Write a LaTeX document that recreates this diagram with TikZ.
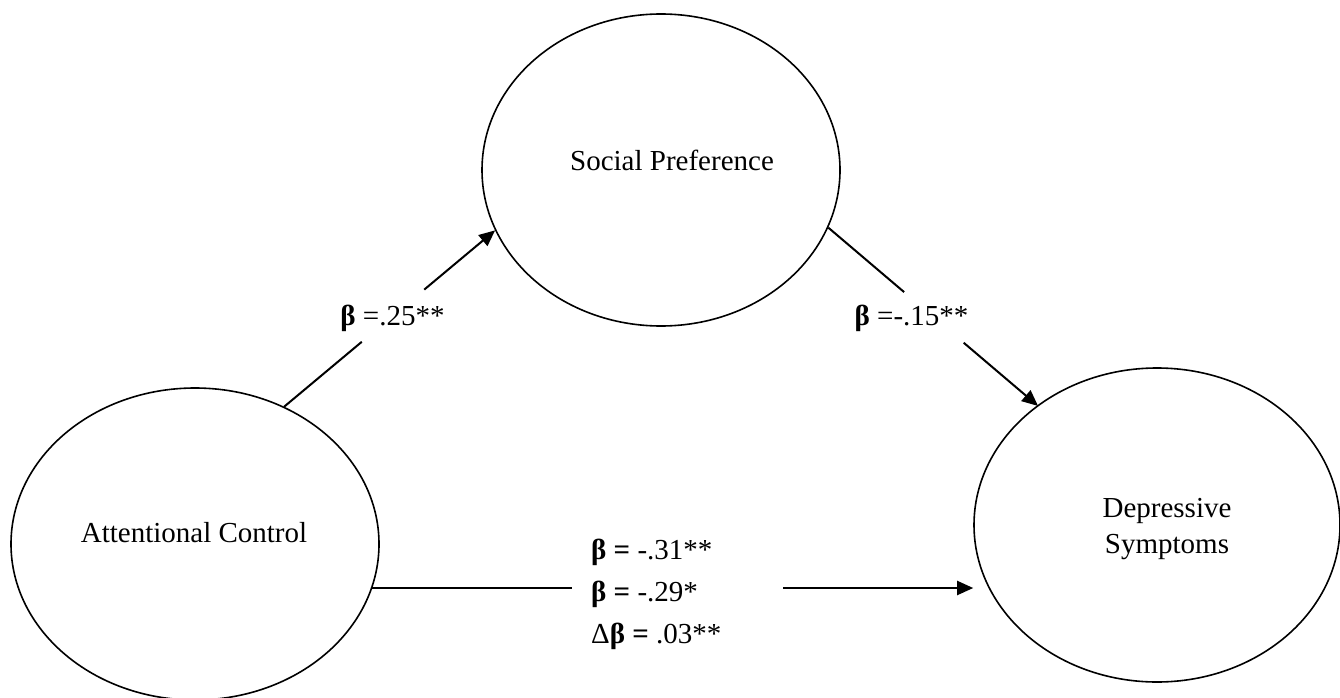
\documentclass[tikz,border=0pt]{standalone}
\usepackage{fontspec}
\setmainfont{Liberation Serif}
\usetikzlibrary{shapes.geometric,arrows.meta,calc}
\begin{document}
\begin{tikzpicture}[x=1pt,y=-1pt,
  construct/.style={draw, ellipse, line width=1.6pt, inner sep=0pt},
  link/.style={line width=2pt},
  linkarrow/.style={line width=2pt, -{Triangle[length=16pt,width=14pt]}},
  txt/.style={font=\fontsize{29}{35}\selectfont, inner sep=0pt}
]
\useasboundingbox (0,0) rectangle (1340,698);
\fill[white] (0,0) rectangle (1340,698);

% constructs
\node[construct, minimum width=368pt, minimum height=312pt] (ac) at (195,544) {};
\node[construct, minimum width=358pt, minimum height=312pt] (sp) at (661,170) {};
\node[construct, minimum width=366pt, minimum height=314pt] (ds) at (1157,525) {};

\node[txt, anchor=base] (tac) at (194,542) {Attentional Control};
\node[txt, anchor=base] (tsp) at (672,170) {Social Preference};
\node[txt, anchor=base] (tds1) at (1167,517) {Depressive};
\node[txt, anchor=base] (tds2) at (1167,553) {Symptoms};

% path a
\coordinate (g1a) at ($(ac.57)!0.368!(sp.200.6)$);
\coordinate (g1b) at ($(ac.57)!0.664!(sp.200.6)$);
\draw[link] (ac.57) -- (g1a);
\draw[linkarrow] (g1b) -- (sp.200.6);
\node[txt, anchor=base] (l1) at (392.5,325) {\textbf{β} =.25**};

% path b
\coordinate (g2a) at ($(sp.341)!0.363!(ds.135)$);
\coordinate (g2b) at ($(sp.341)!0.648!(ds.135)$);
\draw[link] (sp.341) -- (g2a);
\draw[linkarrow, shorten >=-1pt] (g2b) -- ($(g2b)!1!(ds.135)$);
\node[txt, anchor=base] (l2) at (911.5,325) {\textbf{β} =-.15**};

% path c
\coordinate (g3a) at (572,588);
\coordinate (g3b) at (783,588);
\draw[link] (ac.-14 |- g3a) -- (g3a);
\draw[linkarrow] (g3b) -- (g3b -| ds.west);
\node[txt, anchor=base west] (l3a) at (591,559) {\textbf{β =} -.31**};
\node[txt, anchor=base west] (l3b) at (591,601) {\textbf{β =} -.29*};
\node[txt, anchor=base west] (l3c) at (591,643) {Δ\textbf{β =} .03**};
\end{tikzpicture}
\end{document}
